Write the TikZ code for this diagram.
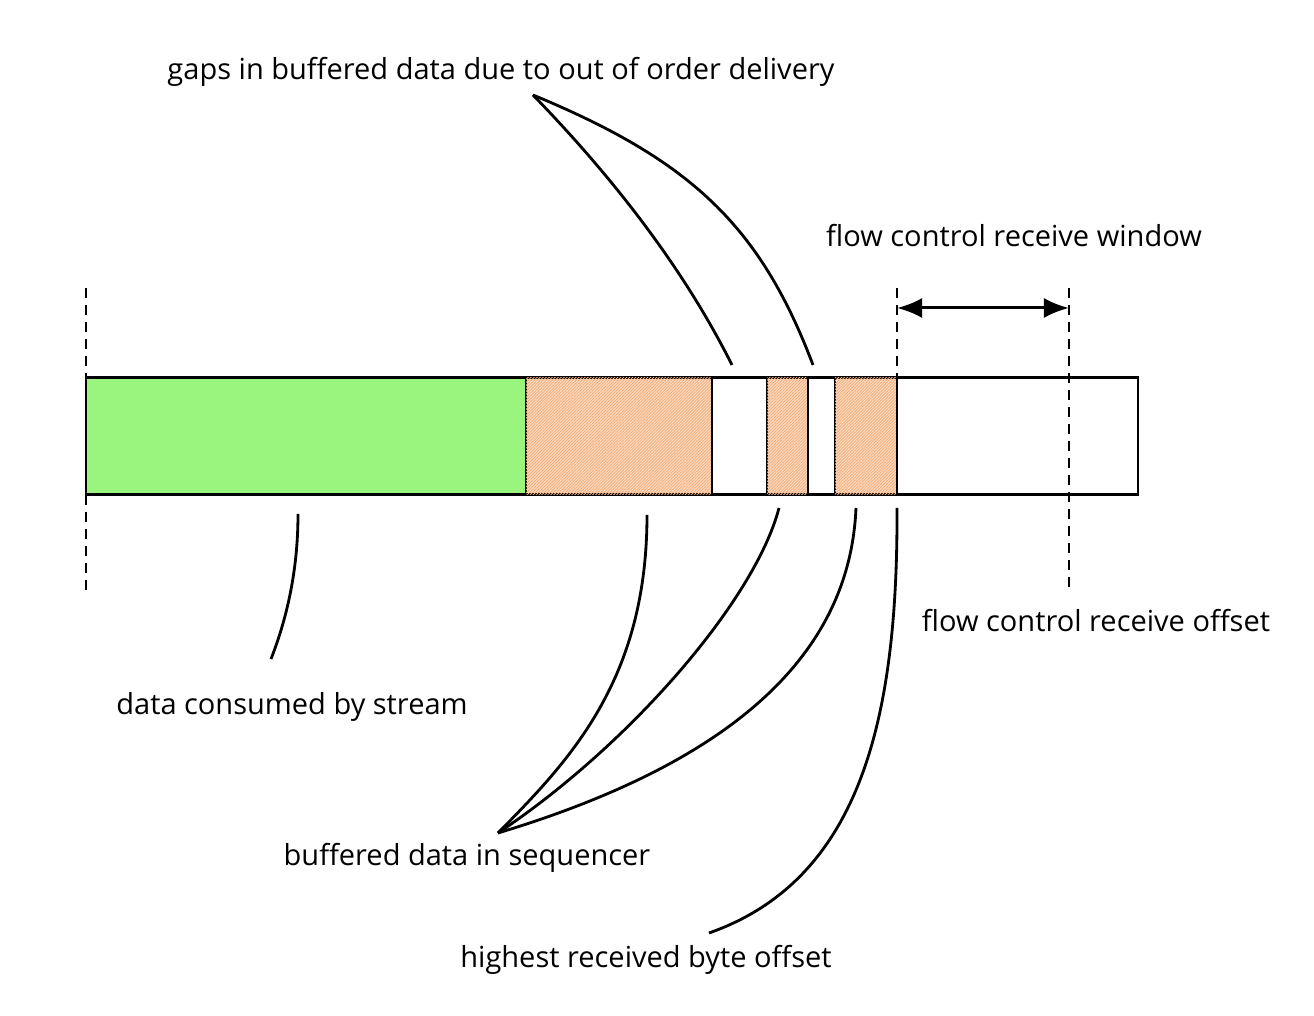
\documentclass[tikz,border=0pt]{standalone}
\usepackage{fontspec}
\setmainfont{Open Sans}
\usetikzlibrary{arrows.meta,patterns.meta}
\definecolor{consumed}{HTML}{9AF57E}
\definecolor{peach}{HTML}{FBDDC8}
\definecolor{hatchorange}{HTML}{F3AE78}
\tikzset{
  seg/.style={draw=black,line width=0.85pt},
  buffered/.style={seg,fill=peach,postaction={pattern={Lines[angle=45,distance=0.6pt,line width=0.25pt]},pattern color=hatchorange}},
  gapseg/.style={seg,fill=white},
  consumedseg/.style={seg,fill=consumed},
  guide/.style={line width=0.85pt,dash pattern=on 0.1cm off 0.07cm},
  leader/.style={line width=0.8pt},
  lbl/.style={font=\fontsize{8.25pt}{10pt}\selectfont,inner sep=0pt},
  span/.style={line width=0.85pt,{Latex[length=0.25cm,width=0.2cm]}-{Latex[length=0.25cm,width=0.2cm]}}
}
\begin{document}
\begin{tikzpicture}[x=0.01cm,y=-0.01cm]
\useasboundingbox (0,0) rectangle (1314,1016);
% bar segments
\draw[consumedseg] (86,378) rectangle (526,495);
\draw[buffered] (526,378) rectangle (712,495);
\draw[gapseg] (712,378) rectangle (767,495);
\draw[buffered] (767,378) rectangle (808,495);
\draw[gapseg] (808,378) rectangle (835,495);
\draw[buffered] (835,378) rectangle (897,495);
\draw[gapseg] (897,378) rectangle (1138,495);
% guides
\draw[guide] (86,288) -- (86,378);
\draw[guide] (86,495) -- (86,590);
\draw[guide] (897,288) -- (897,378);
\draw[guide] (1069,288) -- (1069,590);
% window arrow
\coordinate (wl) at (897,308);
\coordinate (wr) at (1069,308);
\draw[span] (wl) -- (wr);
% labels
\node[lbl] (gaps) at (501,72) {gaps in buffered data due to out of order delivery};
\node[lbl] (window) at (1014,236) {flow control receive window};
\node[lbl] (offset) at (1096,621) {flow control receive offset};
\node[lbl] (consumedlbl) at (292,707) {data consumed by stream};
\node[lbl] (seq) at (467,858) {buffered data in sequencer};
\node[lbl] (highest) at (646,960) {highest received byte offset};
% leader anchor points
\coordinate (gapsapex) at (533,95);
\coordinate (gap1) at (732,365);
\coordinate (gap2) at (813,365);
\coordinate (seqapex) at (498,833);
\coordinate (buf1) at (647,515);
\coordinate (buf2) at (779,508);
\coordinate (buf3) at (856,508);
\coordinate (hi) at (897,508);
\coordinate (hiend) at (709,933);
\coordinate (con1) at (298,514);
\coordinate (con2) at (271,659);
% leaders
\draw[leader] (gapsapex) .. controls (621,185.7) and (687.3,275.7) .. (gap1);
\draw[leader] (gapsapex) .. controls (690,160) and (760,225) .. (gap2);
\draw[leader] (buf1) .. controls (647,680) and (570,760) .. (seqapex);
\draw[leader] (buf2) .. controls (755,600) and (630,745) .. (seqapex);
\draw[leader] (buf3) .. controls (850,650) and (740,760) .. (seqapex);
\draw[leader] (hi) .. controls (898,720) and (860,880) .. (hiend);
\draw[leader] (con1) .. controls (298,564.7) and (289,613) .. (con2);
\end{tikzpicture}
\end{document}
